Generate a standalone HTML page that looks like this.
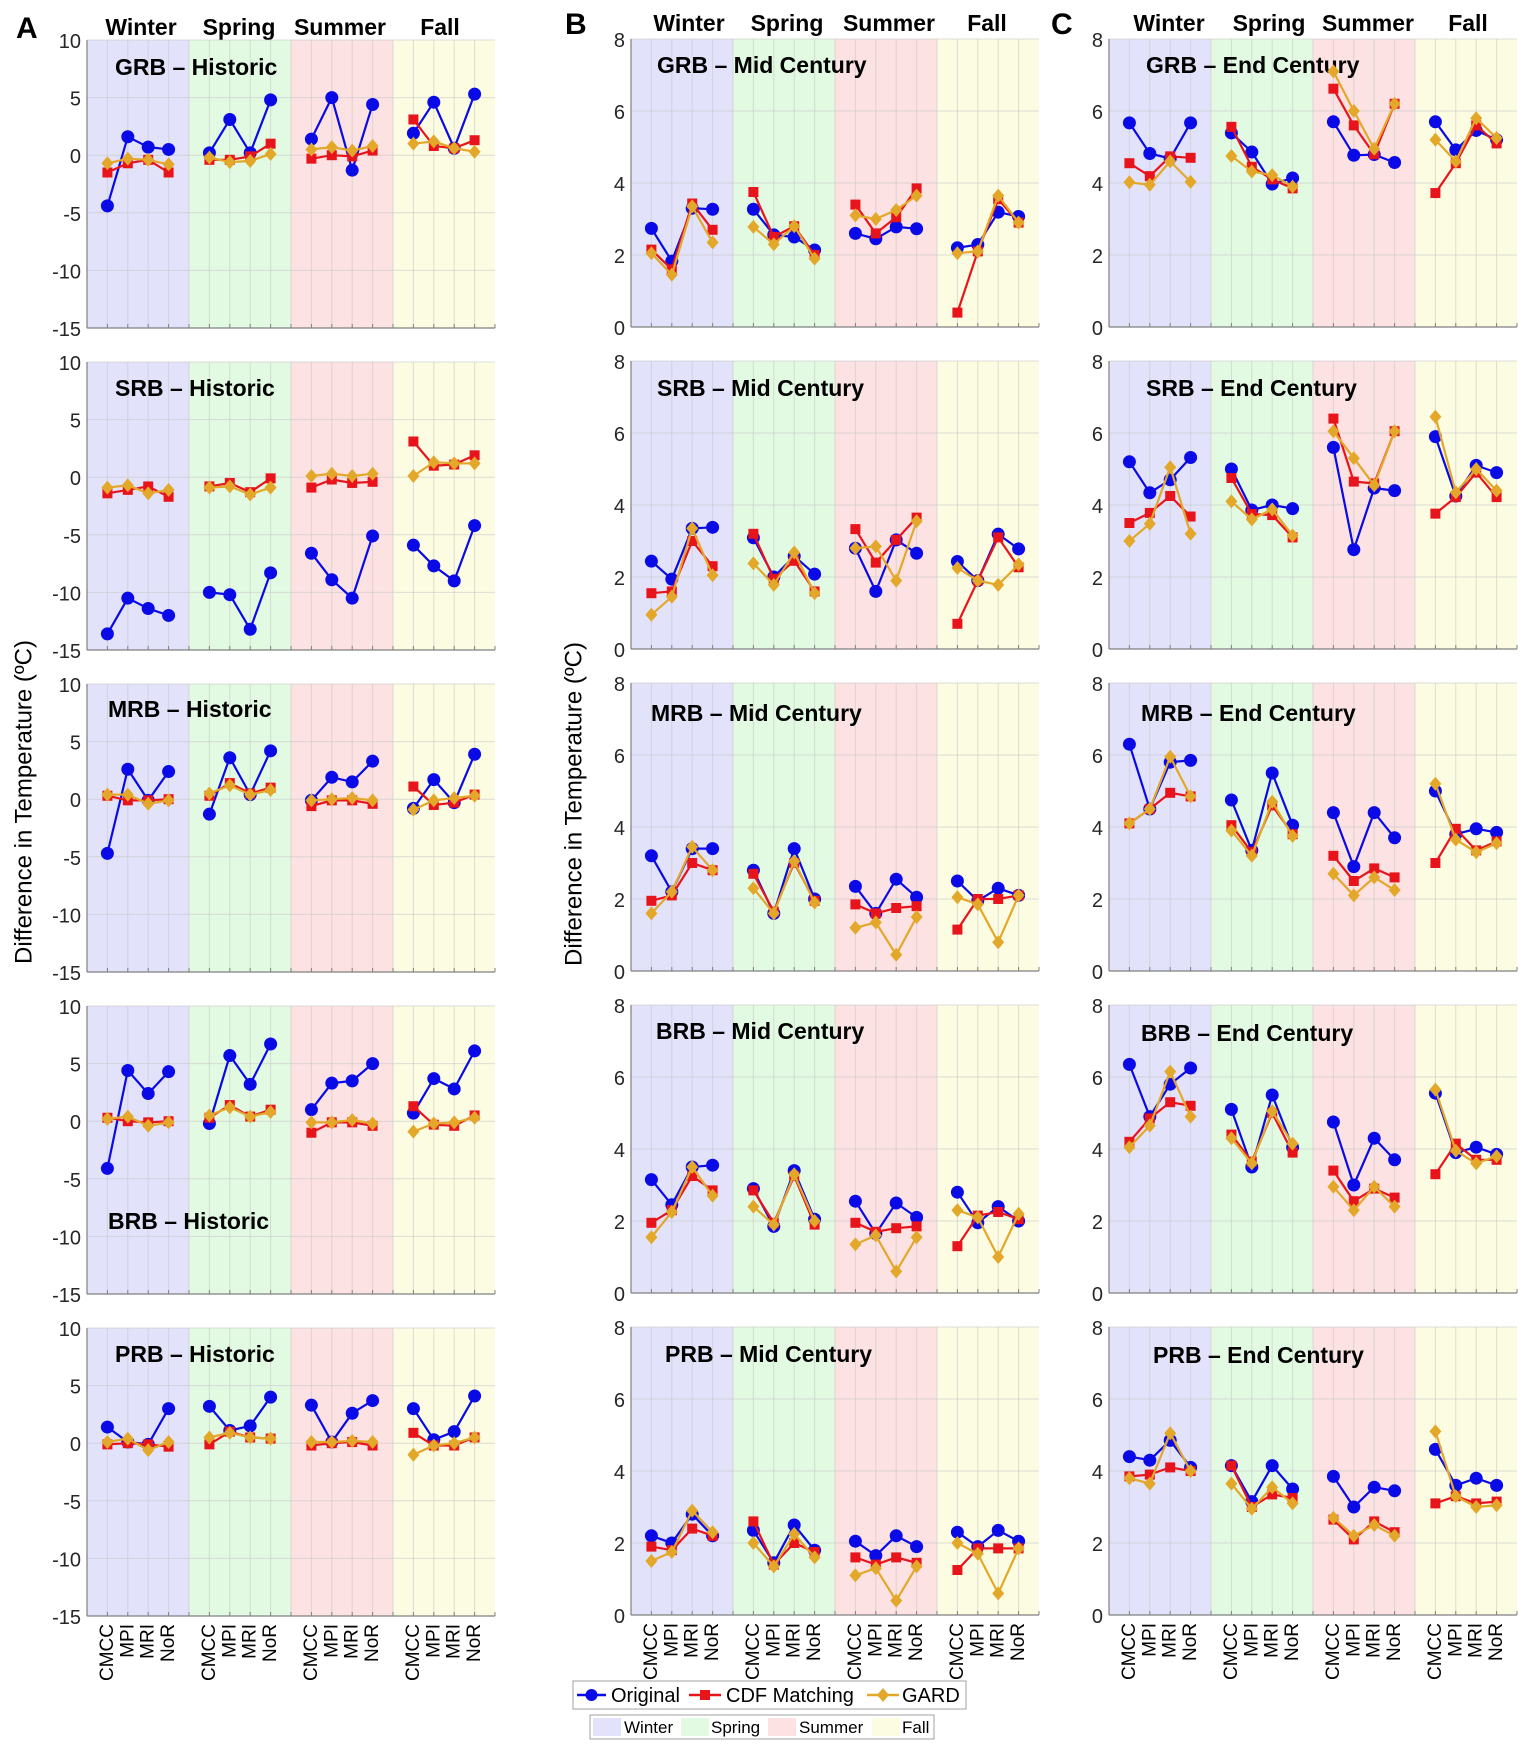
<!DOCTYPE html>
<html><head><meta charset="utf-8"><style>
html,body{margin:0;padding:0;background:#fff;}
svg{display:block;font-family:"Liberation Sans",Arial,sans-serif;}
</style></head><body>
<svg id="chart" width="1535" height="1751" viewBox="0 0 1535 1751" xmlns="http://www.w3.org/2000/svg"></svg>
<script>
const models = ["CMCC","MPI","MRI","NoR"];
const seasons = ["Winter","Spring","Summer","Fall"];
const basins = ["GRB","SRB","MRB","BRB","PRB"];
const periods = ["Historic","Mid Century","End Century"];
const ticksA = [10,5,0,-5,-10,-15];
const ticksBC = [0,2,4,6,8];

// Panel A (Historic)
const A_GRB_orig = [-4.4,1.6,0.7,0.5, 0.2,3.1,0.2,4.8, 1.4,5.0,-1.3,4.4, 1.9,4.6,0.6,5.3];
const A_GRB_cdf  = [-1.5,-0.7,-0.4,-1.5, -0.4,-0.4,-0.1,1.0, -0.3,0,-0.1,0.4, 3.1,0.8,0.6,1.3];
const A_GRB_gard = [-0.7,-0.3,-0.4,-0.8, -0.2,-0.6,-0.5,0.1, 0.5,0.7,0.4,0.8, 1.0,1.2,0.6,0.3];
const A_SRB_orig = [-13.6,-10.5,-11.4,-12.0, -10.0,-10.2,-13.2,-8.3, -6.6,-8.9,-10.5,-5.1, -5.9,-7.7,-9.0,-4.2];
const A_SRB_cdf  = [-1.4,-1.1,-0.8,-1.7, -0.8,-0.5,-1.3,-0.1, -0.9,-0.2,-0.5,-0.4, 3.1,1.0,1.1,1.9];
const A_SRB_gard = [-0.9,-0.7,-1.4,-1.1, -0.9,-0.8,-1.5,-0.9, 0.1,0.3,0.1,0.3, 0.1,1.3,1.2,1.2];
const A_MRB_orig = [-4.7,2.6,-0.1,2.4, -1.3,3.6,0.4,4.2, -0.1,1.9,1.5,3.3, -0.8,1.7,-0.3,3.9];
const A_MRB_cdf  = [0.3,-0.1,-0.1,0, 0.3,1.4,0.5,1.0, -0.6,-0.1,-0.1,-0.4, 1.1,-0.5,-0.3,0.4];
const A_MRB_gard = [0.4,0.4,-0.4,-0.1, 0.5,1.2,0.4,0.8, -0.1,0,0.1,-0.1, -0.9,-0.1,0.1,0.3];
const A_BRB_orig = [-4.1,4.4,2.4,4.3, -0.2,5.7,3.2,6.7, 1.0,3.3,3.5,5.0, 0.7,3.7,2.8,6.1];
const A_BRB_cdf  = [0.3,0,-0.1,0, 0.3,1.4,0.4,1.0, -1.0,-0.1,-0.1,-0.4, 1.3,-0.3,-0.4,0.5];
const A_BRB_gard = [0.2,0.4,-0.4,-0.1, 0.5,1.2,0.4,0.8, -0.1,-0.1,0.1,-0.2, -0.9,-0.2,-0.1,0.3];
const A_PRB_orig = [1.4,0.1,-0.1,3.0, 3.2,1.1,1.5,4.0, 3.3,0.1,2.6,3.7, 3.0,0.3,1.0,4.1];
const A_PRB_cdf  = [-0.1,0,-0.1,-0.3, -0.1,1.0,0.5,0.4, -0.2,0,0.1,-0.2, 0.9,-0.2,-0.2,0.5];
const A_PRB_gard = [0.1,0.4,-0.6,0.1, 0.5,0.9,0.5,0.4, 0.1,0.1,0.2,0.1, -1.0,-0.2,0,0.5];
// Panel B (Mid Century)
const B_GRB_orig = [2.74,1.83,3.3,3.27, 3.27,2.56,2.5,2.14, 2.6,2.45,2.78,2.73, 2.2,2.29,3.19,3.07];
const B_GRB_cdf  = [2.15,1.6,3.43,2.7, 3.75,2.5,2.8,2.0, 3.4,2.6,3.05,3.85, 0.4,2.1,3.55,2.9];
const B_GRB_gard = [2.05,1.45,3.35,2.35, 2.78,2.3,2.8,1.9, 3.1,3.0,3.25,3.65, 2.05,2.1,3.65,2.9];
const B_SRB_orig = [2.44,1.94,3.35,3.38, 3.09,2.0,2.58,2.08, 2.8,1.6,3.03,2.66, 2.43,1.9,3.19,2.78];
const B_SRB_cdf  = [1.55,1.6,3.0,2.3, 3.2,1.95,2.45,1.6, 3.33,2.4,3.03,3.65, 0.7,1.9,3.1,2.27];
const B_SRB_gard = [0.95,1.45,3.35,2.05, 2.38,1.78,2.68,1.55, 2.8,2.85,1.9,3.55, 2.25,1.9,1.78,2.35];
const B_MRB_orig = [3.2,2.2,3.4,3.4, 2.8,1.6,3.4,2.0, 2.35,1.6,2.55,2.05, 2.5,1.95,2.3,2.1];
const B_MRB_cdf  = [1.95,2.1,3.0,2.8, 2.7,1.65,3.0,1.95, 1.85,1.6,1.75,1.8, 1.15,2.0,2.0,2.1];
const B_MRB_gard = [1.6,2.2,3.45,2.8, 2.3,1.6,3.05,1.9, 1.2,1.35,0.45,1.5, 2.05,1.85,0.8,2.1];
const B_BRB_orig = [3.15,2.45,3.5,3.55, 2.9,1.85,3.4,2.05, 2.55,1.65,2.5,2.1, 2.8,1.95,2.4,2.0];
const B_BRB_cdf  = [1.95,2.3,3.25,2.85, 2.85,1.95,3.25,1.9, 1.95,1.7,1.8,1.85, 1.3,2.15,2.25,2.05];
const B_BRB_gard = [1.55,2.25,3.5,2.7, 2.4,1.9,3.3,2.0, 1.35,1.6,0.6,1.55, 2.3,2.1,1.0,2.2];
const B_PRB_orig = [2.2,2.0,2.8,2.2, 2.35,1.45,2.5,1.8, 2.05,1.65,2.2,1.9, 2.3,1.9,2.35,2.05];
const B_PRB_cdf  = [1.9,1.8,2.4,2.2, 2.6,1.4,2.0,1.75, 1.6,1.4,1.6,1.45, 1.25,1.85,1.85,1.85];
const B_PRB_gard = [1.5,1.75,2.9,2.3, 2.0,1.35,2.25,1.6, 1.1,1.3,0.4,1.35, 2.0,1.7,0.6,1.85];
// Panel C (End Century)
const C_GRB_orig = [5.67,4.82,4.68,5.67, 5.39,4.86,3.97,4.14, 5.7,4.77,4.79,4.57, 5.7,4.92,5.46,5.2];
const C_GRB_cdf  = [4.55,4.19,4.74,4.7, 5.56,4.45,4.1,3.85, 6.62,5.6,4.8,6.2, 3.72,4.55,5.6,5.1];
const C_GRB_gard = [4.02,3.95,4.6,4.03, 4.75,4.32,4.22,3.9, 7.1,6.0,4.95,6.2, 5.2,4.6,5.8,5.25];
const C_SRB_orig = [5.2,4.34,4.7,5.32, 5.0,3.86,4.0,3.9, 5.6,2.76,4.47,4.4, 5.9,4.25,5.1,4.9];
const C_SRB_cdf  = [3.5,3.78,4.25,3.68, 4.75,3.75,3.72,3.1, 6.4,4.65,4.6,6.05, 3.76,4.22,4.9,4.22];
const C_SRB_gard = [3.0,3.48,5.05,3.2, 4.1,3.6,3.88,3.15, 6.05,5.3,4.55,6.05, 6.45,4.35,5.0,4.4];
const C_MRB_orig = [6.3,4.5,5.8,5.85, 4.75,3.35,5.5,4.05, 4.4,2.9,4.4,3.7, 5.0,3.8,3.95,3.85];
const C_MRB_cdf  = [4.1,4.5,4.95,4.85, 4.05,3.3,4.6,3.8, 3.2,2.5,2.85,2.6, 3.0,3.95,3.35,3.6];
const C_MRB_gard = [4.1,4.5,5.95,4.85, 3.9,3.2,4.7,3.75, 2.7,2.1,2.6,2.25, 5.2,3.65,3.3,3.55];
const C_BRB_orig = [6.35,4.9,5.8,6.25, 5.1,3.5,5.5,4.05, 4.75,3.0,4.3,3.7, 5.55,3.9,4.05,3.85];
const C_BRB_cdf  = [4.2,4.85,5.3,5.2, 4.4,3.65,5.0,3.9, 3.4,2.55,2.9,2.65, 3.3,4.15,3.7,3.7];
const C_BRB_gard = [4.05,4.65,6.15,4.9, 4.3,3.6,5.05,4.15, 2.95,2.3,2.95,2.4, 5.65,3.95,3.6,3.8];
const C_PRB_orig = [4.4,4.3,4.85,4.1, 4.15,3.15,4.15,3.5, 3.85,3.0,3.55,3.45, 4.6,3.6,3.8,3.6];
const C_PRB_cdf  = [3.85,3.9,4.1,4.0, 4.15,3.0,3.35,3.25, 2.65,2.1,2.6,2.3, 3.1,3.3,3.1,3.15];
const C_PRB_gard = [3.8,3.65,5.05,4.0, 3.65,2.95,3.55,3.1, 2.7,2.2,2.5,2.2, 5.1,3.3,3.0,3.05];

const DATA = {
 A:[[A_GRB_orig,A_GRB_cdf,A_GRB_gard],[A_SRB_orig,A_SRB_cdf,A_SRB_gard],[A_MRB_orig,A_MRB_cdf,A_MRB_gard],[A_BRB_orig,A_BRB_cdf,A_BRB_gard],[A_PRB_orig,A_PRB_cdf,A_PRB_gard]],
 B:[[B_GRB_orig,B_GRB_cdf,B_GRB_gard],[B_SRB_orig,B_SRB_cdf,B_SRB_gard],[B_MRB_orig,B_MRB_cdf,B_MRB_gard],[B_BRB_orig,B_BRB_cdf,B_BRB_gard],[B_PRB_orig,B_PRB_cdf,B_PRB_gard]],
 C:[[C_GRB_orig,C_GRB_cdf,C_GRB_gard],[C_SRB_orig,C_SRB_cdf,C_SRB_gard],[C_MRB_orig,C_MRB_cdf,C_MRB_gard],[C_BRB_orig,C_BRB_cdf,C_BRB_gard],[C_PRB_orig,C_PRB_cdf,C_PRB_gard]]
};

const NS="http://www.w3.org/2000/svg";
const svg=document.getElementById('chart');
function mk(tag,attrs,parent,text){const e=document.createElementNS(NS,tag);for(const k in attrs)e.setAttribute(k,attrs[k]);if(text!==undefined)e.textContent=text;(parent||svg).appendChild(e);return e;}

const seasonColors=["#e2e2fa","#e2fae2","#fce2e2","#fcfce2"];
const seriesColors=["#0a0ae6","#e8141c","#e3a82a"];
const seriesNames=["original","cdf-matching","gard"];
const cols=[
 {key:"A",x0:87,top:40,dom:[-15,10],ticks:ticksA,period:periods[0],
  titles:[[115,67],[115,388],[108,709],[108,1221],[115,1354]],
  heads:[141,239,340,440],headY:27},
 {key:"B",x0:631,top:39,dom:[0,8],ticks:ticksBC,period:periods[1],
  titles:[[657,65],[657,388],[651,713],[656,1031],[665,1354]],
  heads:[689,787,889,987],headY:23},
 {key:"C",x0:1109,top:39,dom:[0,8],ticks:ticksBC,period:periods[2],
  titles:[[1146,65],[1146,388],[1141,713],[1141,1033],[1153,1355]],
  heads:[1169,1269,1368,1468],headY:23}
];
const W=408,H=288,PITCH=322;
const panelLetters=[["A",16,28],["B",565,24],["C",1051,24]];

cols.forEach((c,ci)=>{
  const lt=mk('text',{x:panelLetters[ci][1],y:panelLetters[ci][2]+10,'font-size':30,'font-weight':'bold',fill:'#000'},svg,panelLetters[ci][0]);
  
  
  seasons.forEach((s,si)=>{
    const h=mk('text',{x:c.heads[si],y:c.headY+8,'font-size':23,'font-weight':'bold','text-anchor':'middle',fill:'#000'},svg,s);
    
    
  });
  basins.forEach((b,bi)=>{
    const top=c.top+bi*PITCH;
    const g=mk('g',{});
    
    
    const xs=i=>c.x0+W*i/20;
    const ys=v=>top+H*(c.dom[1]-v)/(c.dom[1]-c.dom[0]);
    seasons.forEach((s,si)=>{
      const r=mk('rect',{x:xs(si*5),y:top,width:W/4,height:H,fill:seasonColors[si]},g);
      
      
    });
    for(let i=1;i<20;i++){mk('line',{x1:xs(i),x2:xs(i),y1:top,y2:top+H,stroke:'#c8c8c8','stroke-opacity':0.6,'stroke-width':1},g);}
    c.ticks.forEach(t=>{
      mk('line',{x1:c.x0,x2:c.x0+W,y1:ys(t),y2:ys(t),stroke:'#c8c8c8','stroke-opacity':0.6,'stroke-width':1},g);
      const tl=mk('text',{x:c.x0-6,y:ys(t)+8,'font-size':20,'text-anchor':'end',fill:'#262626'},g,String(t));
      
      
    });
    mk('line',{x1:c.x0,x2:c.x0,y1:top,y2:top+H,stroke:'#808080','stroke-width':1.2},g);
    mk('line',{x1:c.x0,x2:c.x0+W,y1:top+H,y2:top+H,stroke:'#808080','stroke-width':1.2},g);
    for(let i=0;i<=20;i++){mk('line',{x1:xs(i),x2:xs(i),y1:top+H,y2:top+H-4,stroke:'#808080','stroke-width':1},g);}
    const tt=mk('text',{x:c.titles[bi][0],y:c.titles[bi][1]+8,'font-size':23,'font-weight':'bold',fill:'#000'},g,b+' \u2013 '+c.period);
    
    
    const series=DATA[c.key][bi];
    series.forEach((vals,k)=>{
      const sg=mk('g',{},g);
      
      
      for(let si=0;si<4;si++){
        const pts=[];
        for(let m=0;m<4;m++){pts.push(xs(si*5+m+1).toFixed(1)+','+ys(vals[si*4+m]).toFixed(1));}
        mk('polyline',{points:pts.join(' '),fill:'none',stroke:seriesColors[k],'stroke-width':2.2},sg);
        for(let m=0;m<4;m++){
          const x=xs(si*5+m+1),y=ys(vals[si*4+m]);
          let e;
          if(k===0) e=mk('circle',{cx:x,cy:y,r:6.5,fill:seriesColors[0]},sg);
          else if(k===1) e=mk('rect',{x:x-5,y:y-5,width:10,height:10,fill:seriesColors[1]},sg);
          else e=mk('polygon',{points:`${x},${y-7} ${x+6},${y} ${x},${y+7} ${x-6},${y}`,fill:seriesColors[2]},sg);
          
          
        }
      }
    });
    if(bi===4){
      for(let si=0;si<4;si++){for(let m=0;m<4;m++){
        const x=xs(si*5+m+1),y=top+H+8;
        const xl=mk('text',{x:x,y:y,'font-size':19,'text-anchor':'end','dominant-baseline':'central',transform:`rotate(-90 ${x} ${y})`,fill:'#000'},g,models[m]);
        
        
      }}
    }
  });
});

[[24,802],[574,804]].forEach(p=>{
  const t=mk('text',{x:p[0],y:p[1],'font-size':24,'text-anchor':'middle','dominant-baseline':'central',transform:`rotate(-90 ${p[0]} ${p[1]})`,fill:'#000'},svg,'Difference in Temperature (\u00baC)');
  
  
});

// legend 1
const lg=mk('g',{});


mk('rect',{x:573,y:1681,width:393,height:28,fill:'#fff',stroke:'#a0a0a0','stroke-width':1},lg);
const legItems=[[577,606,611,'Original'],[689,721,726,'CDF Matching'],[867,899,902,'GARD']];
legItems.forEach((it,k)=>{
  const eg=mk('g',{},lg);
  
  
  const cy=1695,cx=(it[0]+it[1])/2;
  mk('line',{x1:it[0],x2:it[1],y1:cy,y2:cy,stroke:seriesColors[k],'stroke-width':2.5},eg);
  if(k===0) mk('circle',{cx:cx,cy:cy,r:6,fill:seriesColors[0]},eg);
  else if(k===1) mk('rect',{x:cx-5,y:cy-5,width:10,height:10,fill:seriesColors[1]},eg);
  else mk('polygon',{points:`${cx},${cy-7} ${cx+6},${cy} ${cx},${cy+7} ${cx-6},${cy}`,fill:seriesColors[2]},eg);
  mk('text',{x:it[2],y:cy+7,'font-size':20,fill:'#000'},eg,it[3]);
});
// legend 2
const lg2=mk('g',{});


mk('rect',{x:590,y:1715,width:344,height:24,fill:'#fff',stroke:'#a0a0a0','stroke-width':1},lg2);
const sItems=[[593,624],[681,711],[768,799],[872,902]];
sItems.forEach((it,k)=>{
  const eg=mk('g',{},lg2);
  
  
  mk('rect',{x:it[0],y:1718,width:28,height:18,fill:seasonColors[k]},eg);
  mk('text',{x:it[1],y:1733,'font-size':17,fill:'#000'},eg,seasons[k]);
});
</script>
</body></html>
